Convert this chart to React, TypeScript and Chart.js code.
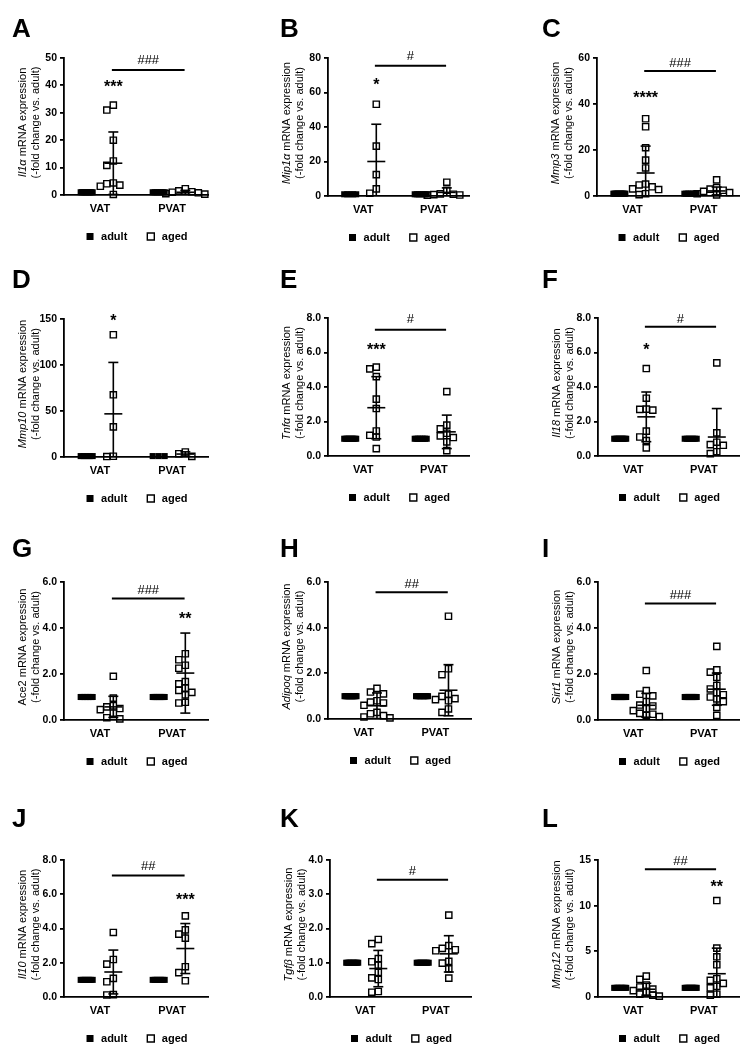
import React, { useEffect, useRef } from 'react';
import { Chart, registerables } from 'chart.js';

Chart.register(...registerables);

const FONT = "'Liberation Sans', Arial, Helvetica, sans-serif";
Chart.defaults.font.family = FONT;

// ---------- shared categories ----------
const groups = ['VAT', 'PVAT'];
const legendLabels = ['adult', 'aged'];
const GROUP_X = [1, 3];

// ---------- Panel A : Il1α ----------
const A_adultVAT = [1, 1, 1, 1, 1, 1, 1, 1, 1, 1];
const A_adultPVAT = [1, 1, 1, 1, 1, 1, 1];
const A_agedVAT = [31.0, 32.8, 20.0, 12.4, 10.8, 4.4, 4.1, 3.6, 3.2, 0.2];
const A_agedPVAT = [2.3, 1.5, 1.2, 1.0, 0.8, 0.5, 0.3];
const A_mean = [11.6, 1.0];
const A_sd = [11.4, 0.7];
const A_ticks = [0, 10, 20, 30, 40, 50];
const A_tickLabels = ['0', '10', '20', '30', '40', '50'];

// ---------- Panel B : Mip1α ----------
const B_adultVAT = [1, 1, 1, 1, 1];
const B_adultPVAT = [1, 1, 1, 1, 1, 1, 1];
const B_agedVAT = [53.2, 28.9, 12.4, 4.1, 1.6];
const B_agedPVAT = [8.0, 3.3, 1.2, 1.0, 0.8, 0.6, 0.5];
const B_mean = [20.0, 2.1];
const B_sd = [21.6, 2.6];
const B_ticks = [0, 20, 40, 60, 80];
const B_tickLabels = ['0', '20', '40', '60', '80'];

// ---------- Panel C : Mmp3 ----------
const C_adultVAT = [1, 1, 1, 1, 1, 1, 1, 1, 1, 1, 1, 1];
const C_adultPVAT = [1, 1, 1, 1, 1, 1, 1, 1];
const C_agedVAT = [33.6, 30.1, 21.0, 15.6, 12.2, 5.2, 4.8, 4.0, 3.1, 2.8, 1.0, 0.6];
const C_agedPVAT = [7.0, 3.6, 3.0, 2.5, 2.0, 1.5, 1.0, 0.5];
const C_mean = [10.0, 2.2];
const C_sd = [11.7, 1.7];
const C_ticks = [0, 20, 40, 60];
const C_tickLabels = ['0', '20', '40', '60'];

// ---------- Panel D : Mmp10 ----------
const D_adultVAT = [1, 1, 1, 1, 1];
const D_adultPVAT = [1, 1, 1];
const D_agedVAT = [132.9, 67.6, 32.7, 0.8, 0.5];
const D_agedPVAT = [5.4, 3.6, 0.7];
const D_mean = [46.9, 3.2];
const D_sd = [55.9, 2.4];
const D_ticks = [0, 50, 100, 150];
const D_tickLabels = ['0', '50', '100', '150'];

// ---------- Panel E : Tnfα ----------
const E_adultVAT = [1, 1, 1, 1, 1, 1, 1, 1, 1];
const E_adultPVAT = [1, 1, 1, 1, 1, 1, 1, 1];
const E_agedVAT = [5.15, 5.05, 4.6, 3.3, 2.75, 1.45, 1.2, 1.1, 0.43];
const E_agedPVAT = [3.73, 1.79, 1.57, 1.32, 1.17, 1.07, 0.82, 0.31];
const E_mean = [2.8, 1.4];
const E_sd = [1.8, 0.97];
const E_ticks = [0, 2, 4, 6, 8];
const E_tickLabels = ['0.0', '2.0', '4.0', '6.0', '8.0'];

// ---------- Panel F : Il18 ----------
const F_adultVAT = [1, 1, 1, 1, 1, 1, 1, 1, 1];
const F_adultPVAT = [1, 1, 1, 1, 1, 1, 1];
const F_agedVAT = [5.07, 3.35, 2.72, 2.7, 2.66, 1.44, 1.1, 0.89, 0.47];
const F_agedPVAT = [5.4, 1.34, 0.8, 0.66, 0.62, 0.25, 0.14];
const F_mean = [2.27, 1.1];
const F_sd = [1.44, 1.65];
const F_ticks = [0, 2, 4, 6, 8];
const F_tickLabels = ['0.0', '2.0', '4.0', '6.0', '8.0'];

// ---------- Panel G : Ace2 ----------
const G_adultVAT = [1, 1, 1, 1, 1, 1, 1, 1, 1];
const G_adultPVAT = [1, 1, 1, 1, 1, 1, 1, 1, 1, 1, 1, 1];
const G_agedVAT = [1.9, 0.95, 0.62, 0.57, 0.5, 0.45, 0.3, 0.1, 0.05];
const G_agedPVAT = [2.88, 2.62, 2.38, 2.25, 1.67, 1.57, 1.39, 1.29, 1.2, 1.09, 0.77, 0.74];
const G_mean = [0.57, 2.04];
const G_sd = [0.46, 1.74];
const G_ticks = [0, 2, 4, 6];
const G_tickLabels = ['0.0', '2.0', '4.0', '6.0'];

// ---------- Panel H : Adipoq ----------
const H_adultVAT = [1, 1, 1, 1, 1, 1, 1, 1, 1, 1, 1, 1];
const H_adultPVAT = [1, 1, 1, 1, 1, 1, 1, 1, 1, 1];
const H_agedVAT = [1.34, 1.18, 1.1, 0.8, 0.74, 0.7, 0.6, 0.29, 0.23, 0.15, 0.09, 0.05];
const H_agedPVAT = [4.5, 2.2, 1.94, 1.09, 0.99, 0.89, 0.85, 0.8, 0.44, 0.29];
const H_mean = [0.58, 1.26];
const H_sd = [0.56, 1.12];
const H_ticks = [0, 2, 4, 6];
const H_tickLabels = ['0.0', '2.0', '4.0', '6.0'];

// ---------- Panel I : Sirt1 ----------
const I_adultVAT = [1, 1, 1, 1, 1, 1, 1, 1, 1, 1, 1, 1, 1];
const I_adultPVAT = [1, 1, 1, 1, 1, 1, 1, 1, 1, 1, 1, 1, 1];
const I_agedVAT = [2.15, 1.28, 1.12, 1.05, 0.8, 0.65, 0.61, 0.49, 0.41, 0.29, 0.25, 0.2, 0.15];
const I_agedPVAT = [3.2, 2.18, 2.08, 1.85, 1.5, 1.35, 1.19, 1.1, 1.0, 0.92, 0.8, 0.55, 0.2];
const I_mean = [0.64, 1.34];
const I_sd = [0.52, 0.7];
const I_ticks = [0, 2, 4, 6];
const I_tickLabels = ['0.0', '2.0', '4.0', '6.0'];

// ---------- Panel J : Il10 ----------
const J_adultVAT = [1, 1, 1, 1, 1, 1, 1];
const J_adultPVAT = [1, 1, 1, 1, 1, 1, 1];
const J_agedVAT = [3.77, 2.19, 1.92, 1.09, 0.89, 0.14, 0.12];
const J_agedPVAT = [4.74, 3.92, 3.67, 3.44, 1.77, 1.42, 0.95];
const J_mean = [1.46, 2.83];
const J_sd = [1.28, 1.46];
const J_ticks = [0, 2, 4, 6, 8];
const J_tickLabels = ['0.0', '2.0', '4.0', '6.0', '8.0'];

// ---------- Panel K : Tgfβ ----------
const K_adultVAT = [1, 1, 1, 1, 1, 1, 1, 1, 1, 1];
const K_adultPVAT = [1, 1, 1, 1, 1, 1, 1, 1, 1];
const K_agedVAT = [1.68, 1.56, 1.12, 1.03, 0.93, 0.72, 0.56, 0.51, 0.16, 0.14];
const K_agedPVAT = [2.39, 1.5, 1.42, 1.38, 1.35, 1.04, 0.99, 0.82, 0.55];
const K_mean = [0.83, 1.26];
const K_sd = [0.53, 0.53];
const K_ticks = [0, 1, 2, 3, 4];
const K_tickLabels = ['0.0', '1.0', '2.0', '3.0', '4.0'];

// ---------- Panel L : Mmp12 ----------
const L_adultVAT = [1, 1, 1, 1, 1, 1, 1, 1, 1, 1];
const L_adultPVAT = [1, 1, 1, 1, 1, 1, 1, 1, 1, 1, 1];
const L_agedVAT = [2.29, 1.93, 1.31, 1.1, 0.87, 0.7, 0.5, 0.3, 0.2, 0.1];
const L_agedPVAT = [10.56, 5.35, 4.4, 3.53, 2.0, 1.82, 1.49, 1.16, 1.0, 0.3, 0.2];
const L_mean = [0.85, 2.55];
const L_sd = [0.65, 2.8];
const L_ticks = [0, 5, 10, 15];
const L_tickLabels = ['0', '5', '10', '15'];

// ---------- significance marks: [text, group index, y value] ----------
const A_star = ['***', 0, 40.9];
const B_star = ['*', 0, 66.4];
const C_star = ['****', 0, 44.2];
const D_star = ['*', 0, 152.6];
const E_star = ['***', 0, 6.35];
const F_star = ['*', 0, 6.39];
const G_star = ['**', 1, 4.55];
const J_star = ['***', 1, 5.9];
const L_star = ['**', 1, 12.45];
// [text, text y value, line y value]
const A_hash = ['###', 49.4, 45.6];
const B_hash = ['#', 81.4, 75.5];
const C_hash = ['###', 58.2, 54.3];
const E_hash = ['#', 8.0, 7.32];
const F_hash = ['#', 8.0, 7.5];
const G_hash = ['###', 5.67, 5.28];
const H_hash = ['##', 5.96, 5.55];
const I_hash = ['###', 5.45, 5.07];
const J_hash = ['##', 7.7, 7.1];
const K_hash = ['#', 3.71, 3.42];
const L_hash = ['##', 15.0, 13.98];

type Panel = {
  letter: string; gene: string; italic: boolean;
  adultVAT: number[]; adultPVAT: number[]; agedVAT: number[]; agedPVAT: number[];
  mean: number[]; sd: number[]; ticks: number[]; tickLabels: string[];
  star: any[] | null; hash: any[] | null;
};

const panels: Panel[] = [
  { letter: 'A', gene: 'Il1α', italic: true, adultVAT: A_adultVAT, adultPVAT: A_adultPVAT, agedVAT: A_agedVAT, agedPVAT: A_agedPVAT, mean: A_mean, sd: A_sd, ticks: A_ticks, tickLabels: A_tickLabels, star: A_star, hash: A_hash },
  { letter: 'B', gene: 'Mip1α', italic: true, adultVAT: B_adultVAT, adultPVAT: B_adultPVAT, agedVAT: B_agedVAT, agedPVAT: B_agedPVAT, mean: B_mean, sd: B_sd, ticks: B_ticks, tickLabels: B_tickLabels, star: B_star, hash: B_hash },
  { letter: 'C', gene: 'Mmp3', italic: true, adultVAT: C_adultVAT, adultPVAT: C_adultPVAT, agedVAT: C_agedVAT, agedPVAT: C_agedPVAT, mean: C_mean, sd: C_sd, ticks: C_ticks, tickLabels: C_tickLabels, star: C_star, hash: C_hash },
  { letter: 'D', gene: 'Mmp10', italic: true, adultVAT: D_adultVAT, adultPVAT: D_adultPVAT, agedVAT: D_agedVAT, agedPVAT: D_agedPVAT, mean: D_mean, sd: D_sd, ticks: D_ticks, tickLabels: D_tickLabels, star: D_star, hash: null },
  { letter: 'E', gene: 'Tnfα', italic: true, adultVAT: E_adultVAT, adultPVAT: E_adultPVAT, agedVAT: E_agedVAT, agedPVAT: E_agedPVAT, mean: E_mean, sd: E_sd, ticks: E_ticks, tickLabels: E_tickLabels, star: E_star, hash: E_hash },
  { letter: 'F', gene: 'Il18', italic: true, adultVAT: F_adultVAT, adultPVAT: F_adultPVAT, agedVAT: F_agedVAT, agedPVAT: F_agedPVAT, mean: F_mean, sd: F_sd, ticks: F_ticks, tickLabels: F_tickLabels, star: F_star, hash: F_hash },
  { letter: 'G', gene: 'Ace2', italic: false, adultVAT: G_adultVAT, adultPVAT: G_adultPVAT, agedVAT: G_agedVAT, agedPVAT: G_agedPVAT, mean: G_mean, sd: G_sd, ticks: G_ticks, tickLabels: G_tickLabels, star: G_star, hash: G_hash },
  { letter: 'H', gene: 'Adipoq', italic: true, adultVAT: H_adultVAT, adultPVAT: H_adultPVAT, agedVAT: H_agedVAT, agedPVAT: H_agedPVAT, mean: H_mean, sd: H_sd, ticks: H_ticks, tickLabels: H_tickLabels, star: null, hash: H_hash },
  { letter: 'I', gene: 'Sirt1', italic: true, adultVAT: I_adultVAT, adultPVAT: I_adultPVAT, agedVAT: I_agedVAT, agedPVAT: I_agedPVAT, mean: I_mean, sd: I_sd, ticks: I_ticks, tickLabels: I_tickLabels, star: null, hash: I_hash },
  { letter: 'J', gene: 'Il10', italic: true, adultVAT: J_adultVAT, adultPVAT: J_adultPVAT, agedVAT: J_agedVAT, agedPVAT: J_agedPVAT, mean: J_mean, sd: J_sd, ticks: J_ticks, tickLabels: J_tickLabels, star: J_star, hash: J_hash },
  { letter: 'K', gene: 'Tgfβ', italic: true, adultVAT: K_adultVAT, adultPVAT: K_adultPVAT, agedVAT: K_agedVAT, agedPVAT: K_agedPVAT, mean: K_mean, sd: K_sd, ticks: K_ticks, tickLabels: K_tickLabels, star: null, hash: K_hash },
  { letter: 'L', gene: 'Mmp12', italic: true, adultVAT: L_adultVAT, adultPVAT: L_adultPVAT, agedVAT: L_agedVAT, agedPVAT: L_agedPVAT, mean: L_mean, sd: L_sd, ticks: L_ticks, tickLabels: L_tickLabels, star: L_star, hash: L_hash },
];

// ---------- layout (positions only) ----------
const COL_X = [0, 251, 502];
const ROW_Y = [0, 260, 520, 780];
const ROW_H = [260, 260, 260, 274];
const LETTER_X = [12, 29, 40];
const LETTER_BASE = [37, 28, 37, 47];
// plot area inside each panel canvas: [left, right, top, bottom]
const PLOT = [
  [64, 208, 58, 195], [77, 218, 58, 196], [95, 237, 58, 196],
  [64, 208, 59, 197], [77, 218, 58, 196], [96, 237, 58, 196],
  [64, 208, 62, 200], [77, 220, 62, 199], [96, 237, 62, 200],
  [64, 208, 80, 217], [79, 220, 80, 217], [96, 237, 80, 217],
];
const SUB = 0.37;            // offset of adult / aged columns from group centre (axis units)
const LINE_X = [1.33, 3.35]; // extent of the comparison bar (axis units)
const LEG_PAD = 18;
const LEG_FONT = 11;
const XAXIS_H = 18;
const LEGEND_H = LEG_FONT + LEG_PAD + 10;
const AXIS_W = 1.8;

function spreadAdult(vals: number[], cx: number, pxX: number) {
  const n = vals.length;
  return vals.map((v, i) => ({ x: cx + (n > 1 ? -6 + (12 * i) / (n - 1) : 0) / pxX, y: v }));
}

function swarm(vals: number[], cx: number, pxX: number, pxY: number) {
  const placed: { px: number; py: number }[] = [];
  const res: { x: number; y: number }[] = new Array(vals.length);
  const idx = vals.map((_, i) => i).sort((a, b) => vals[b] - vals[a]);
  const cands = [0, -6.5, 6.5, -13, 13, -19.5, 19.5];
  for (const i of idx) {
    const py = vals[i] * pxY;
    let chosen = 0;
    for (const c of cands) {
      if (!placed.some((p) => Math.abs(p.px - c) < 6 && Math.abs(p.py - py) < 6)) { chosen = c; break; }
    }
    placed.push({ px: chosen, py });
    res[i] = { x: cx + chosen / pxX, y: vals[i] };
  }
  return res;
}

function seg(x0: number, y0: number, x1: number, y1: number) {
  return {
    data: [{ x: x0, y: y0 }, { x: x1, y: y1 }],
    showLine: true, borderColor: '#000', borderWidth: 1.6,
    pointRadius: 0, pointHoverRadius: 0, fill: false,
  };
}

function buildConfig(p: Panel, idx: number) {
  const [left, right, top, bottom] = PLOT[idx];
  const row = Math.floor(idx / 3), col = idx % 3;
  const W = 251, H = ROW_H[row];
  const plotW = right - left, plotH = bottom - top;
  const yMax = p.ticks[p.ticks.length - 1];
  const pxX = plotW / 4, pxY = plotH / yMax;

  const adultPts = [...spreadAdult(p.adultVAT, GROUP_X[0] - SUB, pxX), ...spreadAdult(p.adultPVAT, GROUP_X[1] - SUB, pxX)];
  const agedPts = [...swarm(p.agedVAT, GROUP_X[0] + SUB, pxX, pxY), ...swarm(p.agedPVAT, GROUP_X[1] + SUB, pxX, pxY)];

  const err: any[] = [];
  [0, 1].forEach((k) => {
    const cx = GROUP_X[k] + SUB, m = p.mean[k], s = p.sd[k];
    const hw = 9 / pxX, cw = 5 / pxX;
    err.push(seg(cx - hw, m, cx + hw, m));
    err.push(seg(cx, m - s, cx, m + s));
    err.push(seg(cx - cw, m + s, cx + cw, m + s));
    if (m - s >= 0) err.push(seg(cx - cw, m - s, cx + cw, m - s));
  });

  const datasets = [
    ...err,
    {
      label: legendLabels[0], data: adultPts, pointStyle: 'rect', pointRadius: 4.3, pointHoverRadius: 4.3,
      backgroundColor: '#000', borderColor: '#000', borderWidth: 0, clip: false,
    },
    {
      label: legendLabels[1], data: agedPts, pointStyle: 'rect', pointRadius: 4.4, pointHoverRadius: 4.4,
      backgroundColor: 'rgba(255,255,255,0)', borderColor: '#000', borderWidth: 1.4, clip: false,
    },
  ];

  const decor = {
    id: 'decor' + idx,
    afterDraw(chart: any) {
      const { ctx, chartArea } = chart;
      const xs = chart.scales.x, ys = chart.scales.y;
      ctx.save();
      ctx.fillStyle = '#000';
      ctx.strokeStyle = '#000';
      // panel letter
      ctx.font = `bold 26px ${FONT}`;
      ctx.textAlign = 'left';
      ctx.textBaseline = 'alphabetic';
      ctx.fillText(p.letter, LETTER_X[col], LETTER_BASE[row]);

      // y-axis title (two lines, gene name italic)
      ctx.save();
      const cy = (chartArea.top + chartArea.bottom) / 2 - 4;
      ctx.translate(chartArea.left - 41, cy);
      ctx.rotate(-Math.PI / 2);
      ctx.textBaseline = 'middle';
      const geneFont = `${p.italic ? 'italic ' : ''}11px ${FONT}`;
      const restFont = `11px ${FONT}`;
      const rest = ' mRNA expression';
      ctx.font = geneFont; const w1 = ctx.measureText(p.gene).width;
      ctx.font = restFont; const w2 = ctx.measureText(rest).width;
      const x0 = -(w1 + w2) / 2;
      ctx.textAlign = 'left';
      ctx.font = geneFont; ctx.fillText(p.gene, x0, 0);
      ctx.font = restFont; ctx.fillText(rest, x0 + w1, 0);
      ctx.textAlign = 'center';
      ctx.fillText('(-fold change vs. adult)', 0, 12.5);
      ctx.restore();

      // significance stars
      if (p.star) {
        const [txt, g, yv] = p.star;
        ctx.font = `bold 16px ${FONT}`;
        ctx.textAlign = 'center';
        ctx.textBaseline = 'alphabetic';
        ctx.fillText(txt, xs.getPixelForValue(GROUP_X[g] + SUB), ys.getPixelForValue(yv) + 0.56 * 16);
      }
      // comparison bar with hashes
      if (p.hash) {
        const [txt, ty, ly] = p.hash;
        const xa = xs.getPixelForValue(LINE_X[0]), xb = xs.getPixelForValue(LINE_X[1]);
        const yl = ys.getPixelForValue(ly);
        ctx.lineWidth = 2;
        ctx.beginPath(); ctx.moveTo(xa, yl); ctx.lineTo(xb, yl); ctx.stroke();
        ctx.font = `13px ${FONT}`;
        ctx.textAlign = 'center';
        ctx.textBaseline = 'alphabetic';
        ctx.fillText(txt, (xa + xb) / 2, ys.getPixelForValue(ty) + 0.36 * 13);
      }
      ctx.restore();
    },
  };

  return {
    type: 'scatter',
    data: { datasets },
    options: {
      animation: false,
      responsive: false,
      maintainAspectRatio: false,
      devicePixelRatio: 1,
      events: [],
      layout: { padding: { left: 0, top, right: W - right, bottom: H - bottom - XAXIS_H - LEGEND_H } },
      scales: {
        x: {
          type: 'linear', min: 0, max: 4,
          afterBuildTicks: (ax: any) => { ax.ticks = GROUP_X.map((v) => ({ value: v })); },
          afterFit: (ax: any) => { ax.height = XAXIS_H; },
          ticks: {
            autoSkip: false, maxRotation: 0, padding: 3, color: '#000',
            font: { size: 11, weight: 'bold' },
            callback: (v: number) => groups[GROUP_X.indexOf(v)] ?? '',
          },
          grid: { display: true, drawOnChartArea: false, drawTicks: true, tickLength: 4, color: 'rgba(0,0,0,0)' },
          border: { display: true, color: '#000', width: AXIS_W },
        },
        y: {
          type: 'linear', min: 0, max: yMax,
          afterBuildTicks: (ax: any) => { ax.ticks = p.ticks.map((v) => ({ value: v })); },
          afterFit: (ax: any) => { ax.width = left; },
          ticks: {
            autoSkip: false, padding: 3, color: '#000',
            font: { size: 10.5, weight: 'bold' },
            callback: (v: number) => { const i = p.ticks.indexOf(v); return i >= 0 ? p.tickLabels[i] : ''; },
          },
          grid: { display: true, drawOnChartArea: false, drawTicks: true, tickLength: 4, color: '#000', lineWidth: AXIS_W },
          border: { display: true, color: '#000', width: AXIS_W },
        },
      },
      plugins: {
        legend: {
          display: true, position: 'bottom', fullSize: false,
          labels: {
            usePointStyle: true, boxWidth: 11, boxHeight: 7, padding: LEG_PAD, color: '#000',
            font: { size: LEG_FONT, weight: 'bold' },
            filter: (item: any) => !!item.text,
          },
        },
        tooltip: { enabled: false },
      },
    },
    plugins: [decor],
  } as any;
}

function PanelChart({ p, idx }: { p: Panel; idx: number }) {
  const ref = useRef<HTMLCanvasElement>(null);
  const row = Math.floor(idx / 3), col = idx % 3;
  useEffect(() => {
    const chart = new Chart(ref.current as HTMLCanvasElement, buildConfig(p, idx));
    return () => chart.destroy();
  }, []);
  return (
    <canvas
      ref={ref}
      width={251}
      height={ROW_H[row]}
      style={{ position: 'absolute', left: COL_X[col], top: ROW_Y[row], width: 251, height: ROW_H[row] }}
    />
  );
}

export default function App() {
  return (
    <div style={{ position: 'absolute', left: 0, top: 0, width: 753, height: 1054, background: '#fff', overflow: 'hidden' }}>
      {panels.map((p, i) => (
        <PanelChart key={p.letter} p={p} idx={i} />
      ))}
    </div>
  );
}
